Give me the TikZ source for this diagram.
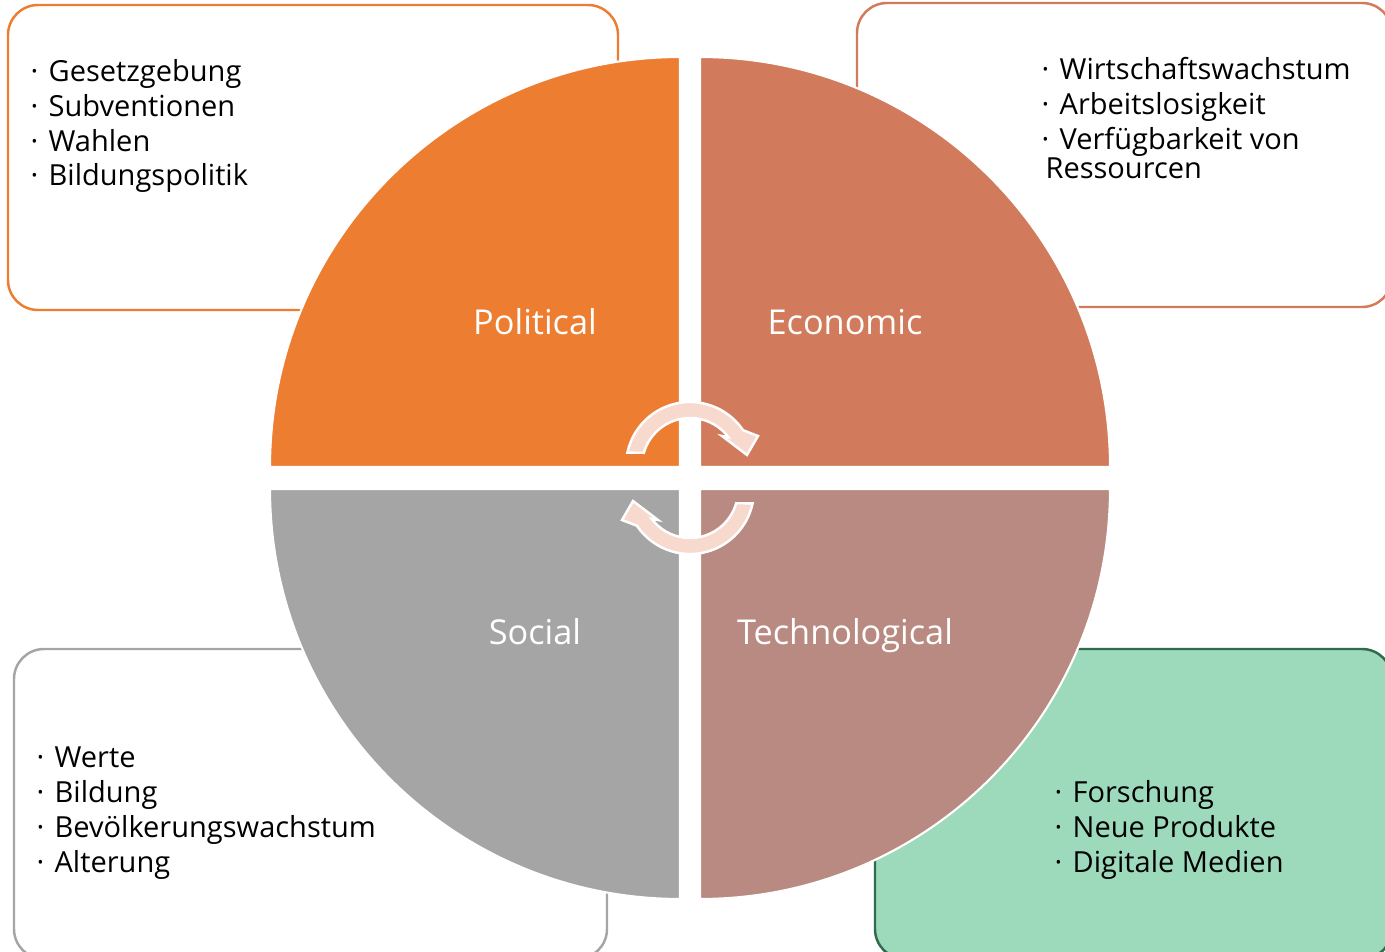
\documentclass[tikz,border=0pt]{standalone}
\usepackage{fontspec}
\setmainfont{Open Sans}

\definecolor{polit}{HTML}{ED7D31}
\definecolor{econ}{HTML}{D17A5C}
\definecolor{soc}{HTML}{A5A5A5}
\definecolor{tech}{HTML}{B98A81}
\definecolor{techbox}{HTML}{9DD9BB}
\definecolor{techline}{HTML}{2F6B4C}
\definecolor{swirl}{HTML}{F7D9CE}

\newcommand{\itm}{\makebox[5.1pt][l]{·}}

\tikzset{
  infobox/.style={line width=0.7pt, rounded corners=0.3cm},
  quarter/.style={draw=white, line width=0.6pt},
  factor/.style={text=white, anchor=base, font=\fontsize{9.75}{12}\selectfont},
  items/.style={align=left, inner sep=0pt, anchor=base west, font=\fontsize{8.25}{8.5}\selectfont},
  cyclearrow/.style={fill=swirl, draw=white, line width=0.7pt}
}

\begin{document}
\begin{tikzpicture}[x=0.01cm, y=0.01cm]
\useasboundingbox (0,0) rectangle (1385,951);
\clip (0,0) rectangle (1385,951);

% boxes behind the circle
\draw[infobox, draw=polit, fill=white] (8,641) rectangle (618,946);
\draw[infobox, draw=econ, fill=white] (857,644) rectangle (1392,948);
\draw[infobox, draw=soc, fill=white] (14,-8) rectangle (607,302);
\draw[infobox, draw=techline, fill=techbox] (875,-8) rectangle (1392,302);

% the four quarters
\filldraw[quarter, fill=polit] (680,484) -- (270,484) arc (180:90:410) -- cycle;
\filldraw[quarter, fill=econ] (700,484) -- (700,894) arc (90:0:410) -- cycle;
\filldraw[quarter, fill=soc] (680,462) -- (270,462) arc (180:270:410) -- cycle;
\filldraw[quarter, fill=tech] (700,462) -- (1110,462) arc (0:-90:410) -- cycle;

% cycle arrows in the middle
\foreach \turn in {0,180}
  \filldraw[cyclearrow, rotate around={\turn:(690,473)}]
    ([shift={(168:64)}]690,485) arc (168:34:64) -- (758,515) -- (747,496)
    -- (722,515) -- ([shift={(37:48)}]690,485) arc (37:164:48) -- cycle;

\node[factor] (political) at (535,616) {Political};
\node[factor] (economic) at (845,616) {Economic};
\node[factor] (social) at (535,307) {Social};
\node[factor] (technological) at (845,307) {Technological};

% anchor is the baseline of the last line
\node[items] (politItems) at (30,765)
  {\itm Gesetzgebung\\[1.4pt] \itm Subventionen\\[1.4pt] \itm Wahlen\\[1.4pt] \itm Bildungspolitik};
\node[items] (econItems) at (1041,772)
  {\itm Wirtschaftswachstum\\[1.4pt] \itm Arbeitslosigkeit\\[1.4pt] \itm Verfügbarkeit von\\ \hspace*{1.1pt}Ressourcen};
\node[items] (socItems) at (36,79)
  {\itm Werte\\[1.4pt] \itm Bildung\\[1.4pt] \itm Bevölkerungswachstum\\[1.4pt] \itm Alterung};
\node[items] (techItems) at (1054,79)
  {\itm Forschung\\[1.4pt] \itm Neue Produkte\\[1.4pt] \itm Digitale Medien};
\end{tikzpicture}
\end{document}
